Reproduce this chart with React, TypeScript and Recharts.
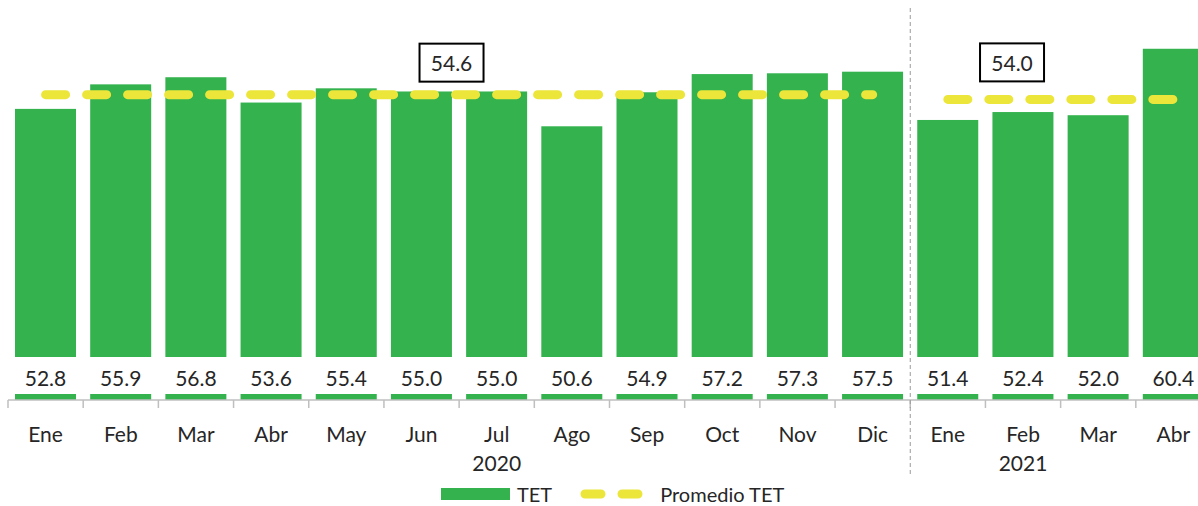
import { BarChart, Bar, Line, XAxis, YAxis } from "recharts";

const months = ["Ene", "Feb", "Mar", "Abr", "May", "Jun", "Jul", "Ago", "Sep", "Oct", "Nov", "Dic", "Ene", "Feb", "Mar", "Abr"];
const years = ["2020", "2020", "2020", "2020", "2020", "2020", "2020", "2020", "2020", "2020", "2020", "2020", "2021", "2021", "2021", "2021"];
const tet = [52.8, 55.9, 56.8, 53.6, 55.4, 55.0, 55.0, 50.6, 54.9, 57.2, 57.3, 57.5, 51.4, 52.4, 52.0, 60.4];
const promedio2020 = 54.6;
const promedio2021 = 54.0;
// where the year label sits under each group
const yearLabelAt = [6, 13];

const data = months.map((m, i) => ({
  key: i,
  month: m,
  tet: tet[i],
  avg2020: years[i] === "2020" ? promedio2020 : null,
  avg2021: years[i] === "2021" ? promedio2021 : null,
}));

const GREEN = "#33b24e";
const YELLOW = "#ece63a";
const TEXT = "#262626";
const FONT = "Lato, 'Open Sans', sans-serif";
const BAND = (1211 - 8) / 16;

// bar drawn with a break: top part, a gap holding the value, and a short stub at the base
const TetBar = (props: any) => {
  const { x, y, width, height, payload } = props;
  const bottom = y + height;
  const cut = bottom - 43;
  return (
    <g>
      <rect x={x} y={y} width={width} height={Math.max(0, cut - y)} fill={GREEN} />
      <rect x={x} y={bottom - 6} width={width} height={6} fill={GREEN} />
      <text
        x={x + width / 2}
        y={bottom - 23}
        textAnchor="middle"
        dominantBaseline="central"
        fontSize={21}
        fontFamily={FONT}
        fill={TEXT}
      >
        {payload.tet.toFixed(1)}
      </text>
    </g>
  );
};

const MonthTick = (props: any) => {
  const { x, payload } = props;
  const i = payload.value;
  const left = x - BAND / 2;
  return (
    <g>
      <line x1={left} x2={left} y1={400} y2={408} stroke="#bfbfbf" strokeWidth={1.5} />
      {i === 12 && (
        <line x1={left} x2={left} y1={8} y2={476} stroke="#9a9a9a" strokeWidth={1} strokeDasharray="4 3" />
      )}
      <text x={x} y={433} textAnchor="middle" dominantBaseline="central" fontSize={21} fontFamily={FONT} fill={TEXT}>
        {months[i]}
      </text>
      {yearLabelAt.includes(i) && (
        <text x={x} y={462} textAnchor="middle" dominantBaseline="central" fontSize={21} fontFamily={FONT} fill={TEXT}>
          {years[i]}
        </text>
      )}
    </g>
  );
};

const boxLabel = (showAt: number, dx: number, dy: number) => (props: any) => {
  const { x, y, index, value } = props;
  if (index !== showAt || value == null) return null;
  const cx = x + dx;
  const cy = y + dy;
  return (
    <g>
      <rect x={cx - 32} y={cy - 19} width={64} height={38} fill="#fff" stroke="#000" strokeWidth={2} />
      <text x={cx} y={cy} textAnchor="middle" dominantBaseline="central" fontSize={21} fontFamily={FONT} fill={TEXT}>
        {Number(value).toFixed(1)}
      </text>
    </g>
  );
};

export default function App() {
  return (
    <div style={{ position: "absolute", left: 0, top: 0, width: 1198, height: 506, overflow: "hidden", background: "#fff" }}>
      <BarChart
        width={1211}
        height={506}
        data={data}
        margin={{ top: 10, right: 0, left: 8, bottom: 46 }}
        barSize={61}
      >
        <XAxis
          dataKey="key"
          height={60}
          interval={0}
          tickLine={false}
          axisLine={{ stroke: "#bfbfbf", strokeWidth: 1.5 }}
          tick={<MonthTick />}
        />
        <YAxis hide domain={[16, 65.3]} />
        <Bar dataKey="tet" name="TET" shape={<TetBar />} isAnimationActive={false} />
        <Line
          dataKey="avg2020"
          name="Promedio TET"
          stroke={YELLOW}
          strokeWidth={9}
          strokeDasharray="20 21"
          strokeLinecap="round"
          dot={false}
          activeDot={false}
          isAnimationActive={false}
          label={boxLabel(5, 30, -32)}
        />
        <Line
          dataKey="avg2021"
          name="Promedio TET"
          stroke={YELLOW}
          strokeWidth={9}
          strokeDasharray="20 21"
          strokeLinecap="round"
          dot={false}
          activeDot={false}
          isAnimationActive={false}
          label={boxLabel(13, -11, -37)}
        />
      </BarChart>
      <div
        style={{
          position: "absolute",
          top: 483,
          left: 441,
          height: 22,
          lineHeight: "22px",
          display: "flex",
          alignItems: "center",
          fontFamily: FONT,
          fontSize: 20,
          color: TEXT,
          whiteSpace: "nowrap",
        }}
      >
        <svg width={69} height={14} style={{ marginRight: 7 }}>
          <rect x={0} y={1} width={69} height={12} fill={GREEN} />
        </svg>
        <span>TET</span>
        <svg width={66} height={14} style={{ marginLeft: 28, marginRight: 14 }}>
          <line x1={5} x2={61} y1={7} y2={7} stroke={YELLOW} strokeWidth={9} strokeLinecap="round" strokeDasharray="16 21" />
        </svg>
        <span>Promedio TET</span>
      </div>
    </div>
  );
}
